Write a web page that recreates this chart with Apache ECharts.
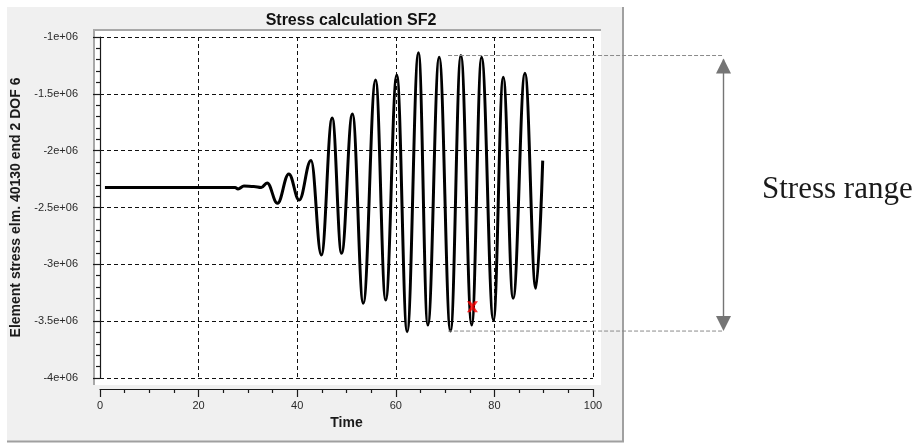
<!DOCTYPE html>
<html>
<head>
<meta charset="utf-8">
<script src="https://cdn.jsdelivr.net/npm/echarts@6/dist/echarts.min.js"></script>
<style>
  html, body { margin: 0; padding: 0; background: #ffffff; }
  #chart { width: 917px; height: 444px; }
</style>
</head>
<body>
<div id="chart"></div>
<script>
// Stress history of element 40130, end 2, DOF 6 (time in s, stress in Pa)
const timeValues = [
  1.0, 27.4, 28.0, 29.2, 31.2, 32.7, 33.9,
  36.0, 38.3, 40.4, 42.8, 44.9, 47.1, 49.0, 51.2, 53.4, 55.9,
  57.95, 60.2, 62.3, 64.6, 66.5, 68.8, 71.1, 73.2, 75.4, 77.4,
  79.8, 81.8, 83.8, 86.2, 88.4, 89.8
];
const stressValues = [
  -2.324e6, -2.324e6, -2.337e6, -2.311e6, -2.315e6, -2.324e6, -2.284e6,
  -2.463e6, -2.205e6, -2.434e6, -2.087e6, -2.918e6, -1.713e6, -2.903e6, -1.677e6, -3.343e6, -1.378e6,
  -3.314e6, -1.334e6, -3.593e6, -1.138e6, -3.534e6, -1.179e6, -3.587e6, -1.163e6, -3.534e6, -1.179e6,
  -3.490e6, -1.355e6, -3.299e6, -1.319e6, -3.211e6, -2.088e6
];

// Marked sample on the curve
const markedTime = 75.55;
const markedStress = -3.373e6;

// Cycle used for the stress range annotation (trough, then peak)
const rangeTroughTime = 71.1;
const rangeTroughStress = -3.587e6;
const rangePeakTime = 73.2;
const rangePeakStress = -1.163e6;

// Axis ticks
const xTickValues = [0, 20, 40, 60, 80, 100];
const yTickValues = [-4e6, -3.5e6, -3e6, -2.5e6, -2e6, -1.5e6, -1e6];
const yTickLabels = ['-4e+06', '-3.5e+06', '-3e+06', '-2.5e+06', '-2e+06', '-1.5e+06', '-1e+06'];

const chart = echarts.init(document.getElementById('chart'), null, { renderer: 'canvas' });

const lineData = timeValues.map((t, i) => [t, stressValues[i]]);

const gridLine = { color: '#111111', width: 1, type: [4, 3] };
const axisFont = { fontFamily: 'Liberation Sans, Arial, sans-serif', fontSize: 11, color: '#2a2a2a' };

const baseGraphics = [
  // window panel
  { type: 'rect', z: -20, silent: true, shape: { x: 7, y: 7, width: 616, height: 434 }, style: { fill: '#f0f0f0' } },
  { type: 'line', z: -19, silent: true, shape: { x1: 623, y1: 7, x2: 623, y2: 442 }, style: { stroke: '#a0a0a0', lineWidth: 2 } },
  { type: 'line', z: -19, silent: true, shape: { x1: 7, y1: 441.5, x2: 624, y2: 441.5 }, style: { stroke: '#a0a0a0', lineWidth: 2 } },
  // plot frame
  { type: 'rect', z: -18, silent: true, shape: { x: 93, y: 29, width: 508, height: 356 }, style: { fill: '#ffffff' } },
  { type: 'line', z: -17, silent: true, shape: { x1: 94, y1: 29, x2: 94, y2: 385 }, style: { stroke: '#a8a8a8', lineWidth: 2 } },
  { type: 'line', z: -17, silent: true, shape: { x1: 93, y1: 30, x2: 601, y2: 30 }, style: { stroke: '#a8a8a8', lineWidth: 2 } }
];

chart.setOption({
  animation: false,
  backgroundColor: '#ffffff',
  title: {
    text: 'Stress calculation SF2',
    left: 346, top: 8, textAlign: 'center',
    textStyle: { fontFamily: 'Liberation Sans, Arial, sans-serif', fontSize: 16, fontWeight: 'bold', color: '#111111' }
  },
  grid: { left: 100, top: 37, width: 493, height: 341, containLabel: false },
  xAxis: {
    type: 'value', min: 0, max: 100, interval: 20, offset: 11,
    name: 'Time', nameLocation: 'middle', nameGap: 26,
    nameTextStyle: { fontFamily: 'Liberation Sans, Arial, sans-serif', fontSize: 14, fontWeight: 'bold', color: '#1a1a1a' },
    axisLine: { show: true, lineStyle: { color: '#1a1a1a', width: 1.2 } },
    axisTick: { show: true, length: 8, lineStyle: { color: '#1a1a1a', width: 1.2 } },
    minorTick: { show: true, splitNumber: 4, length: 4, lineStyle: { color: '#1a1a1a', width: 1.2 } },
    axisLabel: Object.assign({ margin: 11, showMinLabel: true, showMaxLabel: true,
      formatter: v => xTickValues.includes(v) ? String(v) : '' }, axisFont),
    splitLine: { show: true, lineStyle: gridLine }
  },
  yAxis: {
    type: 'value', min: -4e6, max: -1e6, interval: 5e5, offset: 11,
    name: 'Element stress elm. 40130 end 2 DOF 6', nameLocation: 'middle', nameGap: 59, nameRotate: 90,
    nameTextStyle: { fontFamily: 'Liberation Sans, Arial, sans-serif', fontSize: 14, fontWeight: 'bold', color: '#1a1a1a' },
    axisLine: { show: true, lineStyle: { color: '#1a1a1a', width: 1.2 } },
    axisTick: { show: true, length: 7, lineStyle: { color: '#1a1a1a', width: 1.2 } },
    minorTick: { show: true, splitNumber: 5, length: 4, lineStyle: { color: '#1a1a1a', width: 1.2 } },
    axisLabel: Object.assign({ margin: 11, showMinLabel: true, showMaxLabel: true,
      formatter: v => {
        const i = yTickValues.findIndex(t => Math.abs(t - v) < 1);
        return i >= 0 ? yTickLabels[i] : '';
      } }, axisFont),
    splitLine: { show: true, lineStyle: gridLine }
  },
  series: [
    {
      type: 'line',
      data: lineData,
      smooth: 0.4,
      smoothMonotone: 'x',
      showSymbol: false,
      lineStyle: { color: '#000000', width: 3 },
      z: 3
    },
    {
      type: 'scatter',
      data: [[markedTime, markedStress]],
      symbol: 'path://M0,0 L3.2,0 L5,2.6 L6.8,0 L10,0 L6.6,5 L10,10 L6.8,10 L5,7.4 L3.2,10 L0,10 L3.4,5 Z',
      symbolSize: 11,
      itemStyle: { color: '#ff0000' },
      z: 4
    }
  ],
  graphic: baseGraphics
});

// Stress range annotation, placed from the data coordinates of the cycle
const lineStartTime = 70.6;
const arrowX = 723.5;
const topPx = chart.convertToPixel({ gridIndex: 0 }, [lineStartTime, rangePeakStress]);
const botPx = chart.convertToPixel({ gridIndex: 0 }, [lineStartTime, rangeTroughStress]);
const annColor = '#757575';
const head = 15, halfW = 7.5;

chart.setOption({
  graphic: baseGraphics.concat([
    { type: 'line', z: 10, silent: true, shape: { x1: topPx[0], y1: topPx[1], x2: arrowX, y2: topPx[1] },
      style: { stroke: '#8a8a8a', lineWidth: 1, lineDash: [4, 2] } },
    { type: 'line', z: 10, silent: true, shape: { x1: botPx[0], y1: botPx[1], x2: arrowX, y2: botPx[1] },
      style: { stroke: '#8a8a8a', lineWidth: 1, lineDash: [4, 2] } },
    { type: 'line', z: 10, silent: true, shape: { x1: arrowX, y1: topPx[1] + 4, x2: arrowX, y2: botPx[1] - 4 },
      style: { stroke: annColor, lineWidth: 1.4 } },
    { type: 'polygon', z: 10, silent: true,
      shape: { points: [[arrowX, topPx[1] + 3], [arrowX - halfW, topPx[1] + 3 + head], [arrowX + halfW, topPx[1] + 3 + head]] },
      style: { fill: annColor } },
    { type: 'polygon', z: 10, silent: true,
      shape: { points: [[arrowX, botPx[1]], [arrowX - halfW, botPx[1] - head], [arrowX + halfW, botPx[1] - head]] },
      style: { fill: annColor } },
    { type: 'text', z: 10, silent: true, x: 762, y: 190,
      style: { text: 'Stress range', fill: '#1a1a1a', font: '31px "Liberation Serif", "DejaVu Serif", serif',
        textAlign: 'left', textVerticalAlign: 'middle' } }
  ])
});
</script>
</body>
</html>
